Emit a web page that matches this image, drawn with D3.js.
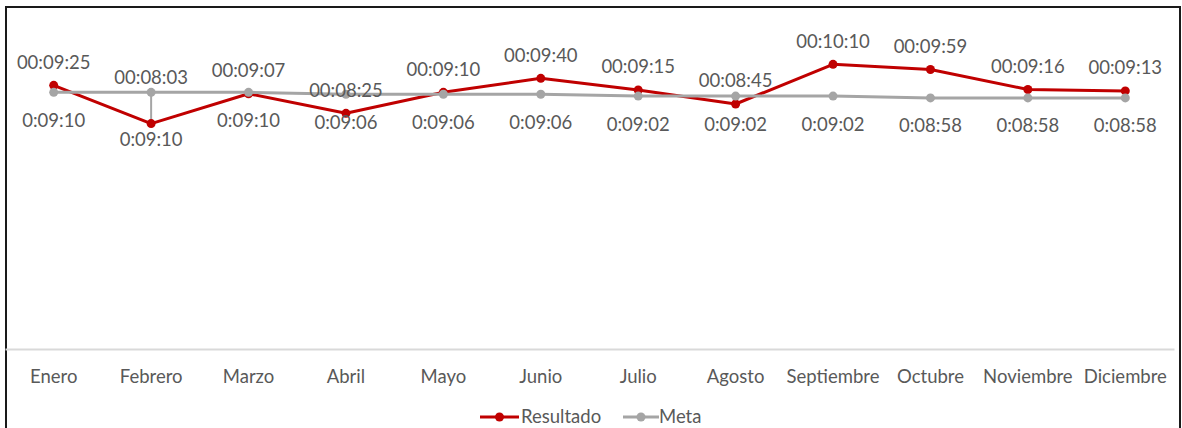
<!DOCTYPE html>
<html>
<head>
<meta charset="utf-8">
<script src="https://cdn.jsdelivr.net/npm/d3@7"></script>
<style>
  body { margin: 0; background: #fff; }
  svg text { font-family: Lato, "Open Sans", sans-serif; fill: #595959; }
</style>
</head>
<body>
<svg id="chart" width="1182" height="428"></svg>
<script>
const months = ['Enero', 'Febrero', 'Marzo', 'Abril', 'Mayo', 'Junio', 'Julio',
  'Agosto', 'Septiembre', 'Octubre', 'Noviembre', 'Diciembre'];
const resultado = ['00:09:25', '00:08:03', '00:09:07', '00:08:25', '00:09:10', '00:09:40',
  '00:09:15', '00:08:45', '00:10:10', '00:09:59', '00:09:16', '00:09:13'];
const meta = ['0:09:10', '0:09:10', '0:09:10', '0:09:06', '0:09:06', '0:09:06',
  '0:09:02', '0:09:02', '0:09:02', '0:08:58', '0:08:58', '0:08:58'];
const seriesNames = ['Resultado', 'Meta'];
const yMax = '0:12:00';

const toSec = s => s.split(':').map(Number).reduce((a, b) => a * 60 + b, 0);

class LineChart {
  constructor(_config) {
    this.config = {
      selection: _config.selection,
      containerWidth: _config.containerWidth || 1182,
      containerHeight: _config.containerHeight || 428,
    };
    this.margin = { left: 5, right: 8, top: 13, bottom: 79 };
    this.init();
  }

  init() {
    let vis = this;
    vis.svg = d3.select(vis.config.selection);

    vis.svg.append('rect')
      .attr('x', 6).attr('y', 7)
      .attr('width', 1174).attr('height', 440)
      .style('fill', 'white')
      .style('stroke', '#1a1a1a')
      .style('stroke-width', 2);

    vis.width = vis.config.containerWidth - vis.margin.left - vis.margin.right;
    vis.height = vis.config.containerHeight - vis.margin.top - vis.margin.bottom;

    vis.chart = vis.svg.append('g')
      .attr('transform', `translate(${vis.margin.left},${vis.margin.top})`);

    vis.data = months.map((m, i) => ({
      month: m,
      res: toSec(resultado[i]), resLabel: resultado[i],
      meta: toSec(meta[i]), metaLabel: meta[i],
    }));

    vis.xScale = d3.scaleBand().domain(months).range([0, vis.width]);
    vis.yScale = d3.scaleLinear().domain([0, toSec(yMax)]).range([vis.height, 0]);
    vis.render();
  }

  render() {
    let vis = this;
    const x = d => vis.xScale(d.month) + vis.xScale.bandwidth() / 2;
    const y = vis.yScale;

    // x axis
    const xAxis = d3.axisBottom(vis.xScale).tickSize(0).tickPadding(21);
    const xAxisG = vis.chart.append('g')
      .attr('transform', `translate(0,${vis.height})`)
      .call(xAxis);
    xAxisG.select('.domain').attr('stroke', '#d9d9d9').attr('stroke-width', 2);
    xAxisG.selectAll('text')
      .style('font-size', '18.5px')
      .style('font-family', 'Lato, "Open Sans", sans-serif')
      .attr('fill', '#595959');

    // the Febrero label was moved above the Meta point
    const far = d => d.res < d.meta - 60;

    // leader lines
    vis.chart.selectAll('.leader')
      .data(vis.data.filter(far))
      .join('line')
      .attr('class', 'leader')
      .attr('x1', x).attr('x2', x)
      .attr('y1', d => y(d.meta)).attr('y2', d => y(d.res))
      .attr('stroke', '#a5a5a5').attr('stroke-width', 2);

    const series = [
      { key: 'res', color: '#c00000' },
      { key: 'meta', color: '#a5a5a5' },
    ];
    series.forEach(s => {
      const line = d3.line().x(x).y(d => y(d[s.key]));
      vis.chart.append('path')
        .datum(vis.data)
        .attr('d', line)
        .attr('fill', 'none')
        .attr('stroke', s.color)
        .attr('stroke-width', 3)
        .attr('stroke-linejoin', 'round');
      vis.chart.selectAll(`.dot-${s.key}`)
        .data(vis.data)
        .join('circle')
        .attr('class', `dot-${s.key}`)
        .attr('cx', x)
        .attr('cy', d => y(d[s.key]))
        .attr('r', 4.5)
        .attr('fill', s.color);
    });

    // data labels
    vis.chart.selectAll('.lab-res')
      .data(vis.data)
      .join('text')
      .attr('class', 'lab-res')
      .attr('x', x)
      .attr('y', d => far(d) ? y(d.meta) - 15 : y(d.res) - 23)
      .attr('dy', '0.35em')
      .attr('text-anchor', 'middle')
      .style('font-size', '18.5px')
      .text(d => d.resLabel);

    vis.chart.selectAll('.lab-meta')
      .data(vis.data)
      .join('text')
      .attr('class', 'lab-meta')
      .attr('x', x)
      .attr('y', d => far(d) ? y(d.res) + 16 : y(d.meta) + 28)
      .attr('dy', '0.35em')
      .attr('text-anchor', 'middle')
      .style('font-size', '18.5px')
      .text(d => d.metaLabel);

    // legend
    const legend = vis.svg.append('g').attr('transform', 'translate(480,417)');
    const items = [
      { name: seriesNames[0], color: '#c00000', x: 0, len: 39, tx: 41 },
      { name: seriesNames[1], color: '#a5a5a5', x: 143, len: 36, tx: 179 },
    ];
    items.forEach(it => {
      const g = legend.append('g').attr('transform', `translate(${it.x},0)`);
      g.append('line')
        .attr('x1', 0).attr('x2', it.len)
        .attr('stroke', it.color).attr('stroke-width', 3);
      g.append('circle')
        .attr('cx', it.len / 2).attr('r', 4.5)
        .attr('fill', it.color);
      g.append('text')
        .attr('x', it.tx - it.x)
        .attr('dy', '0.35em')
        .style('font-size', '18.5px')
        .text(it.name);
    });
  }
}

new LineChart({ selection: '#chart' });
</script>
</body>
</html>
